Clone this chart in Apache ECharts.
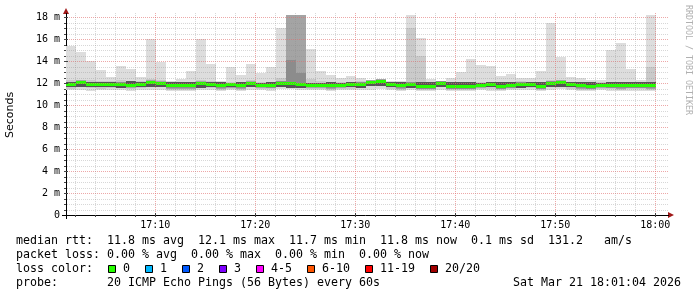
<!DOCTYPE html>
<html><head><meta charset="utf-8">
<script src="https://cdn.jsdelivr.net/npm/echarts@6/dist/echarts.min.js"></script>
<style>html,body{margin:0;padding:0;background:#fff}#c{width:697px;height:297px}</style>
</head><body><div id="c"></div>
<script>
// ---- data (ms), one column per minute starting 17:01:04 ----
const startSec = 64;      // seconds after 17:00:00
const stepSec = 60;
const smokeTop = [15.4,14.85,14.0,13.2,12.55,13.55,13.27,12.55,16.0,13.9,12.2,12.35,13.05,16.0,13.7,12.2,13.5,12.75,13.7,12.9,13.5,17.0,18.5,18.5,15.1,13.1,12.7,12.45,12.6,12.45,12.3,12.4,12.2,12.2,18.5,16.05,12.4,12.2,12.5,13.0,14.15,13.6,13.55,12.6,12.85,12.45,12.45,13.1,17.5,14.35,12.55,12.45,12.3,12.3,15.0,15.6,13.3,12.3,18.5];
const median = [11.85,12.03,11.88,11.85,11.88,11.9,11.8,11.88,12.03,11.97,11.73,11.73,11.73,11.94,11.88,11.73,11.82,11.73,11.97,11.8,11.76,12.0,11.94,11.9,11.8,11.8,11.73,11.8,11.85,11.9,12.06,12.12,11.85,11.73,11.9,11.7,11.7,12.0,11.7,11.7,11.7,11.8,11.85,11.7,11.76,11.9,11.88,11.7,12.0,12.03,11.85,11.73,11.7,11.8,11.76,11.73,11.76,11.76,11.73];
const smokeBottom = [11.35,11.4,11.3,11.35,11.4,11.35,11.3,11.4,11.4,11.35,11.3,11.25,11.3,11.4,11.35,11.3,11.35,11.3,11.35,11.35,11.3,11.45,11.45,11.4,11.4,11.35,11.3,11.35,11.35,11.4,11.4,11.45,11.35,11.3,11.35,11.3,11.3,11.4,11.3,11.25,11.3,11.35,11.3,11.3,11.35,11.4,11.35,11.3,11.4,11.45,11.35,11.3,11.3,11.35,11.3,11.3,11.3,11.3,11.25];
const band2Low = [11.5,11.68,11.53,11.5,11.53,11.55,11.45,11.53,11.68,11.62,11.38,11.38,11.38,11.59,11.53,11.38,11.47,11.38,11.62,11.45,11.41,11.65,11.59,11.55,11.45,11.45,11.38,11.45,11.5,11.55,11.71,11.77,11.5,11.38,11.55,11.35,11.35,11.65,11.35,11.35,11.35,11.45,11.5,11.35,11.41,11.55,11.53,11.35,11.65,11.68,11.5,11.38,11.35,11.45,11.41,11.38,11.41,11.41,11.38];
const band2High = [12.3,12.3,12.25,12.2,12.2,12.25,12.2,12.2,12.35,12.3,12.0,12.1,12.1,12.3,12.2,12.0,12.1,12.0,12.25,12.1,12.1,12.5,18.5,18.5,12.4,12.15,12.0,12.1,12.1,12.15,12.25,12.3,12.05,12.0,17.0,14.5,12.0,12.2,12.0,12.1,12.1,12.1,12.1,12.0,12.05,12.15,12.1,12.0,12.25,12.3,12.1,12.0,11.95,12.05,12.05,12.0,12.05,12.0,13.5];
const band3Low = [11.6,11.78,11.63,11.6,11.63,11.65,11.55,11.63,11.78,11.72,11.48,11.48,11.48,11.69,11.63,11.48,11.57,11.48,11.72,11.55,11.51,11.75,11.69,11.65,11.55,11.55,11.48,11.55,11.6,11.65,11.81,11.87,11.6,11.48,11.65,11.45,11.45,11.75,11.45,11.45,11.45,11.55,11.6,11.45,11.51,11.65,11.63,11.45,11.75,11.78,11.6,11.48,11.45,11.55,11.51,11.48,11.51,11.51,11.48];
const band3High = [12.05,12.23,12.08,12.05,12.08,12.1,12.0,12.08,12.23,12.17,11.93,11.93,11.93,12.14,12.08,11.93,12.02,11.93,12.17,12.0,11.96,12.2,18.5,18.5,12.0,12.0,11.93,12.0,12.05,12.1,12.26,12.32,12.05,11.93,12.1,11.9,11.9,12.2,11.9,11.9,11.9,12.0,12.05,11.9,11.96,12.1,12.08,11.9,12.2,12.23,12.05,11.93,11.9,12.0,11.96,11.93,11.96,11.96,11.93];
const band4Low = [11.65,11.83,11.68,11.65,11.68,11.7,11.6,11.68,11.83,11.77,11.53,11.53,11.53,11.74,11.68,11.53,11.62,11.53,11.77,11.6,11.56,11.8,11.74,11.7,11.6,11.6,11.53,11.6,11.65,11.7,11.86,11.92,11.65,11.53,11.7,11.5,11.5,11.8,11.5,11.5,11.5,11.6,11.65,11.5,11.56,11.7,11.68,11.5,11.8,11.83,11.65,11.53,11.5,11.6,11.56,11.53,11.56,11.56,11.53];
const band4High = [12.0,12.18,12.03,12.0,12.03,12.05,11.95,12.03,12.18,12.12,11.88,11.88,11.88,12.09,12.03,11.88,11.97,11.88,12.12,11.95,11.91,12.15,14.1,12.9,11.95,11.95,11.88,11.95,12.0,12.05,12.21,12.27,12.0,11.88,12.05,11.85,11.85,12.15,11.85,11.85,11.85,11.95,12.0,11.85,11.91,12.05,12.03,11.85,12.15,12.18,12.0,11.88,11.85,11.95,11.91,11.88,11.91,11.91,11.88];
const darkLow = [11.65,11.68,11.68,11.65,11.68,11.55,11.8,11.68,11.68,11.62,11.73,11.73,11.73,11.59,11.68,11.73,11.62,11.73,11.62,11.6,11.76,11.65,11.59,11.55,11.6,11.6,11.73,11.6,11.65,11.55,11.71,11.77,11.65,11.73,11.55,11.7,11.7,11.65,11.7,11.7,11.7,11.6,11.65,11.7,11.76,11.55,11.68,11.7,11.65,11.68,11.65,11.73,11.7,11.6,11.76,11.73,11.76,11.76,11.73];
const darkHigh = [12.05,12.03,12.08,12.05,12.08,11.9,12.15,12.08,12.03,11.97,12.08,12.08,12.08,11.94,12.08,12.08,12.02,12.08,11.97,12.0,12.11,12.0,11.94,11.9,12.0,12.0,12.08,12.0,12.05,11.9,12.06,12.12,12.05,12.08,11.9,12.05,12.05,12.0,12.05,12.05,12.05,12.0,12.05,12.05,12.11,11.9,12.08,12.05,12.0,12.03,12.05,12.08,12.05,12.0,12.11,12.08,12.11,12.11,12.08];
// tick labels
const xTickSec = [600,1200,1800,2400,3000,3600];
const xTickText = ['17:10','17:20','17:30','17:40','17:50','18:00'];
const lossColors = ['#26ff00','#00b8ff','#0059ff','#7e00ff','#ff00ff','#ff5500','#ff0000','#a00000'];
const lossLabels = ['0','1','2','3','4-5','6-10','11-19','20/20'];

const Y_MAX = 200/11;
const MONO = "'DejaVu Sans Mono', monospace";

const smokeData = median.map((m, i) => [
  startSec + i*stepSec, startSec + (i+1)*stepSec,
  smokeBottom[i], smokeTop[i], band2Low[i], band2High[i], band3Low[i], band3High[i],
  band4Low[i], band4High[i], darkLow[i], darkHigh[i], m
]);
const layerColors = ['#dddddd', '#cacaca', '#a4a4a4', '#8c8c8c', '#555555'];

function renderSmoke(params, api) {
  const x0 = Math.round(api.coord([api.value(0), 0])[0]);
  const x1 = Math.round(api.coord([api.value(1), 0])[0]);
  const children = [];
  for (let j = 0; j < layerColors.length; j++) {
    const yl = Math.round(api.coord([0, api.value(2 + 2*j)])[1]);
    const yh = Math.round(api.coord([0, api.value(3 + 2*j)])[1]);
    children.push({type:'rect', shape:{x:x0, y:yh, width:x1-x0, height:yl-yh}, style:{fill:layerColors[j]}});
  }
  const ym = api.coord([0, api.value(12)])[1];
  const yt = Math.round(ym - 1.5);
  children.push({type:'rect', shape:{x:x0, y:yt, width:x1-x0, height:3}, style:{fill:lossColors[0]}});
  return {type:'group', children};
}

const yGrid = [];
for (let v = 0.5; v <= 18.01; v += 0.5) yGrid.push([startSec, Math.round(v*10)/10]);
const xGrid = [];
for (let s = 120; s <= 3600; s += 120) xGrid.push([s, 0]);

const MAJ = 'rgba(225,110,110,0.6)';
const MIN = 'rgba(140,140,140,0.35)';
function renderHGrid(params, api) {
  const cs = params.coordSys;
  const v = api.value(1);
  const y = Math.round(api.coord([startSec, v])[1]) + 0.5;
  const major = Math.abs(v % 2) < 1e-6;
  return {type:'group', children:[
    {type:'line', shape:{x1:cs.x+1, y1:y, x2:cs.x+cs.width+3, y2:y},
     style:{stroke: major ? MAJ : MIN, lineWidth:1, lineDash:[1,1]}},
    {type:'line', shape:{x1:cs.x-2, y1:y, x2:cs.x+(major?2:0), y2:y}, style:{stroke:'#444', lineWidth:1}}
  ]};
}
function renderVGrid(params, api) {
  const cs = params.coordSys;
  const s = api.value(0);
  const x = Math.round(api.coord([s, 0])[0]) + 0.5;
  const major = s % 600 === 0;
  return {type:'group', children:[
    {type:'line', shape:{x1:x, y1:cs.y+cs.height-1, x2:x, y2:cs.y-2},
     style:{stroke: major ? MAJ : MIN, lineWidth:1, lineDash:[1,1]}},
    {type:'line', shape:{x1:x, y1:cs.y+cs.height+2, x2:x, y2:cs.y+cs.height-(major?2:0)}, style:{stroke:'#444', lineWidth:1}}
  ]};
}

const chart = echarts.init(document.getElementById('c'), null, {renderer:'canvas'});

const legendY = [241, 255, 269, 283];
const CW = 7;
const graphics = [
  {type:'text', x:10.5, y:115, rotation:Math.PI/2, style:{text:'Seconds', font:"11px 'DejaVu Sans'", fill:'#000', align:'center', verticalAlign:'middle'}},
  {type:'text', x:688, y:5, rotation:-Math.PI/2, style:{text:'RRDTOOL / TOBI OETIKER', font:"8.3px "+MONO, fill:'#b0b0b0', align:'left', verticalAlign:'middle'}},
  {type:'polygon', shape:{points:[[63,14],[69,14],[66,8]]}, style:{fill:'#a01818'}},
  {type:'polygon', shape:{points:[[668,212],[668,218],[674,215]]}, style:{fill:'#a01818'}},
  {type:'line', shape:{x1:66.5, y1:219, x2:66.5, y2:13}, style:{stroke:'#000', lineWidth:1}},
  {type:'line', shape:{x1:62, y1:215.5, x2:669, y2:215.5}, style:{stroke:'#000', lineWidth:1}},
  {type:'text', x:16, y:legendY[0], style:{text:'median rtt:  11.8 ms avg  12.1 ms max  11.7 ms min  11.8 ms now  0.1 ms sd  131.2   am/s', font:"11.63px "+MONO, fill:'#000', verticalAlign:'middle'}},
  {type:'text', x:16, y:legendY[1], style:{text:'packet loss: 0.00 % avg  0.00 % max  0.00 % min  0.00 % now', font:"11.63px "+MONO, fill:'#000', verticalAlign:'middle'}},
  {type:'text', x:16, y:legendY[2], style:{text:'loss color:', font:"11.63px "+MONO, fill:'#000', verticalAlign:'middle'}},
  {type:'text', x:16, y:legendY[3], style:{text:'probe:       20 ICMP Echo Pings (56 Bytes) every 60s', font:"11.63px "+MONO, fill:'#000', verticalAlign:'middle'}},
  {type:'text', x:681, y:legendY[3], style:{text:'Sat Mar 21 18:01:04 2026', font:"11.63px "+MONO, fill:'#000', align:'right', verticalAlign:'middle'}}
];
let bx = 108.5;
lossLabels.forEach((lab, i) => {
  graphics.push({type:'rect', shape:{x:bx, y:265.5, width:7, height:7}, style:{fill:lossColors[i], stroke:'#000', lineWidth:1}});
  graphics.push({type:'text', x:bx+14.5, y:legendY[2], style:{text:lab, font:"11.63px "+MONO, fill:'#000', verticalAlign:'middle'}});
  bx += 14.5 + lab.length*CW + 15.5;
});

chart.setOption({
  animation:false,
  backgroundColor:'#fff',
  grid:{left:66, right:31, top:15, bottom:82, containLabel:false},
  xAxis:{type:'value', min:startSec, max:startSec+3600,
    axisLine:{show:false}, axisTick:{show:false}, splitLine:{show:false},
    axisLabel:{customValues:xTickSec, formatter:(v)=>{const i=xTickSec.indexOf(v);return i>=0?xTickText[i]:'';},
      fontFamily:MONO, fontSize:10, color:'#000', margin:5}},
  yAxis:{type:'value', min:0, max:Y_MAX, interval:2,
    axisLine:{show:false}, axisTick:{show:false}, splitLine:{show:false},
    axisLabel:{fontFamily:MONO, fontSize:10, color:'#000', margin:6, showMaxLabel:false,
      formatter:(v)=> (Math.abs(v%2)>1e-6) ? '' : (v===0 ? '0' : v+' m')}},
  graphic:graphics,
  series:[
    {type:'custom', name:'smoke', renderItem:renderSmoke, data:smokeData, clip:true, z:2,
     encode:{x:[0,1], y:[2,3,4,5,6,7,8,9,10,11,12]}},
    {type:'custom', name:'hgrid', renderItem:renderHGrid, data:yGrid, z:3, silent:true, encode:{x:0,y:1}},
    {type:'custom', name:'vgrid', renderItem:renderVGrid, data:xGrid, z:3, silent:true, encode:{x:0,y:1}}
  ]
});
</script></body></html>
